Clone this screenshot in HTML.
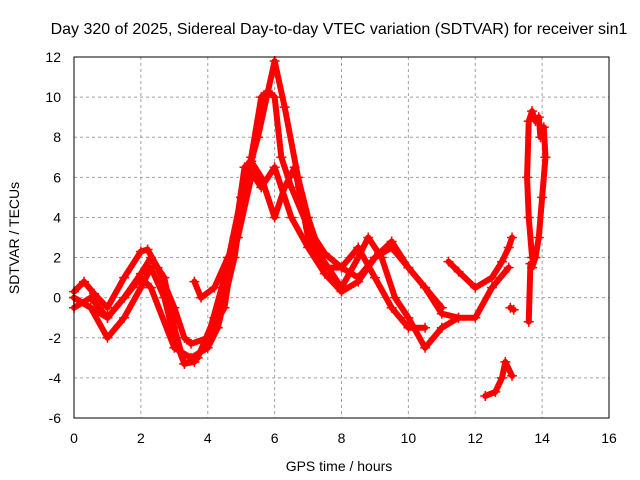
<!DOCTYPE html>
<html><head><meta charset="utf-8"><style>
body{margin:0;background:#fff;}
svg{display:block;font-family:"Liberation Sans",sans-serif;}
</style></head><body>
<svg id="chart" width="640" height="480">
<text x="339" y="34" font-size="16" text-anchor="middle">Day 320 of 2025, Sidereal Day-to-day VTEC variation (SDTVAR) for receiver sin1</text>
<g id="grid"></g>
<g id="ticks"></g>
<g id="series"></g>
<rect x="74" y="57" width="535" height="361" fill="none" stroke="#000" stroke-width="1"/>
<text x="339" y="471" font-size="14" text-anchor="middle">GPS time / hours</text>
<text transform="translate(19,238) rotate(-90)" font-size="14" text-anchor="middle">SDTVAR / TECUs</text>
</svg>
<script>
const xTicks=[0,2,4,6,8,10,12,14,16];
const yTicks=[-6,-4,-2,0,2,4,6,8,10,12];
const t1=[0,0.3,0.6,1,1.5,2,2.2,2.5,3,3.3,3.5,4,4.5,5,5.3,5.6,5.8,6,6.2,6.5,7,7.5,8,8.5,9,9.5,10,10.5,11,11.5,12,12.5,13];
const v1=[0.3,0.8,0.2,-0.5,1,2.3,2.4,1.5,-0.5,-2,-2.3,-2,-0.5,5,7,10,10.3,10,7,5.5,3.5,2.2,1.5,1,2,2.5,1.5,0.5,-0.8,-1,-1,0.5,1.5];
const t2=[0,0.5,1,1.5,2,2.3,2.7,3,3.3,3.6,4,4.5,5,5.5,6,6.3,6.7,7,7.4,8,8.5,8.8,9.2,9.6,10,10.5,11,11.5];
const v2=[0,-0.5,-2,-1,0.5,1.5,0,-2,-3.3,-3.2,-2,1,5,8,11.8,9.5,6,4,2,0.5,2,3,2,0,-1,-2.5,-1.5,-1];
const t3=[0,0.5,1,1.5,2,2.3,2.7,3,3.3,3.7,4.2,4.8,5.1,5.3,5.6,6,6.3,6.6,7,7.5,8,8.5,9,9.5,10,10.5];
const v3=[-0.5,0,-1,0,1.2,2,1,-1.5,-3.3,-3,-1,3,6.5,6.8,6,4,5.5,6.5,3,1.5,1.5,2.5,1,-0.5,-1.5,-1.5];
const t4=[0,1,2,2.3,3,3.5,4,4.3,4.8,5.2,5.6,6,6.5,7,7.5,8,8.5,9,9.5,10,10.5,11];
const v4=[0,-1,1,0.5,-2.5,-3,-2.5,-1.5,2,6.5,5.5,6.5,4,2.5,1.2,0.3,0.8,2,2.8,1.5,0.5,-0.5];
const t5=[3.6,3.8,4.2,4.6,4.9,5.3];
const v5=[0.8,0,0.5,2,3,6];
const t6=[11.2,11.5,12,12.5,12.8,13,13.1];
const v6=[1.8,1.3,0.5,1,1.8,2.5,3];
const t7=[12.3,12.6,12.8,12.9,13.1];
const v7=[-4.9,-4.7,-4,-3.2,-3.9];
const t8=[13.05,13.15];
const v8=[-0.5,-0.6];
const t9=[13.6,13.65,13.7,13.8,13.9,14.0,14.1,14.05,13.95,13.9,13.8,13.7,13.6,13.55,13.6,13.7];
const v9=[-1.2,1.7,1.5,2,3,5,7,8.5,8,9,8.8,9.3,8.8,6,4,2];
const seriesT=[t1,t2,t3,t4,t5,t6,t7,t8,t9];
const seriesV=[v1,v2,v3,v4,v5,v6,v7,v8,v9];
const X=t=>74+t*535/16, Y=v=>418-(v+6)*361/18;
const NS='http://www.w3.org/2000/svg';
const g=document.getElementById('grid'), tk=document.getElementById('ticks'), sg=document.getElementById('series');
function mk(tag,attrs,parent){const e=document.createElementNS(NS,tag);for(const k in attrs)e.setAttribute(k,attrs[k]);parent.appendChild(e);return e;}
xTicks.forEach(t=>{
 if(t>0&&t<16){const l=mk('line',{x1:X(t),x2:X(t),y1:57,y2:418,stroke:'#a0a0a0','stroke-dasharray':'3,3'},g);
 
 }
 const s=mk('text',{x:X(t),y:443,'font-size':14,'text-anchor':'middle'},tk);s.textContent=t;
 
 
});
yTicks.forEach(v=>{
 if(v>-6&&v<12){const l=mk('line',{x1:74,x2:609,y1:Y(v),y2:Y(v),stroke:'#a0a0a0','stroke-dasharray':'3,3'},g);
 
 }
 const s=mk('text',{x:61,y:Y(v)+5,'font-size':14,'text-anchor':'end'},tk);s.textContent=v;
 
 
});
seriesT.forEach((ts,i)=>{
 const vs=seriesV[i];
 const pts=ts.map((t,j)=>X(t)+','+Y(vs[j])).join(' ');
 const pl=mk('polyline',{points:pts,fill:'none',stroke:'#ff0000','stroke-width':6,'stroke-linejoin':'round','stroke-linecap':'round'},sg);
 
 
 ts.forEach((t,j)=>{
  const x=X(t),y=Y(vs[j]);
  const p=mk('path',{d:`M${x-5},${y}H${x+5}M${x},${y-5}V${y+5}`,stroke:'#ff0000','stroke-width':1.5},sg);
  
  
 });
});
</script>
</body></html>
